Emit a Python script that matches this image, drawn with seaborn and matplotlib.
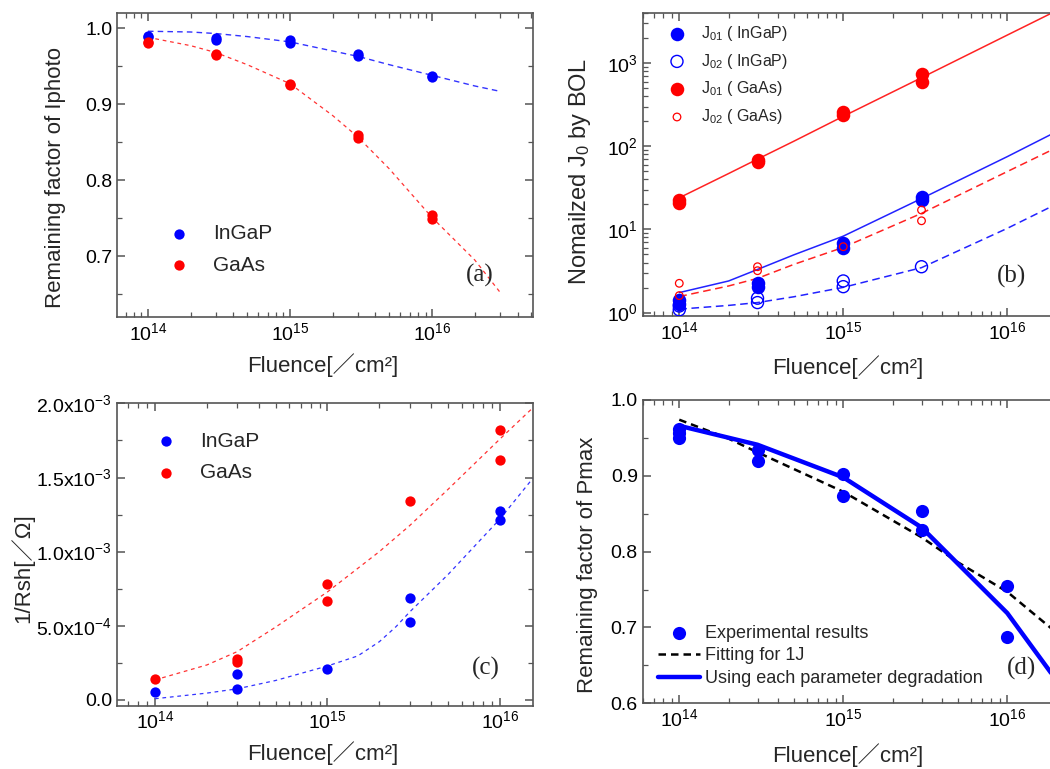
import matplotlib
matplotlib.use("Agg")
import matplotlib.pyplot as plt
import matplotlib.ticker as mticker
import seaborn as sns

# (a) remaining factor of Iphoto
fl_a = [1e14, 1e14, 3e14, 3e14, 1e15, 1e15, 3e15, 3e15, 1e16, 1e16]
iph_ingap = [0.990, 0.988, 0.987, 0.985, 0.984, 0.980, 0.966, 0.963, 0.937, 0.936]
iph_gaas = [0.982, 0.980, 0.966, 0.965, 0.927, 0.925, 0.860, 0.855, 0.754, 0.749]
fit_fl_a = [1e14, 2e14, 3e14, 5e14, 1e15, 2e15, 3e15, 5e15, 1e16, 2e16, 3e16]
fit_iph_ingap = [0.996, 0.995, 0.993, 0.989, 0.982, 0.970, 0.963, 0.952, 0.938, 0.924, 0.917]
fit_iph_gaas = [0.988, 0.977, 0.968, 0.952, 0.927, 0.885, 0.857, 0.815, 0.751, 0.695, 0.653]

# (b) normalized J0
fl_b1 = [1e14, 1e14, 3e14, 3e14, 1e15, 1e15, 3e15, 3e15]
j01_ingap = [1.42, 1.27, 2.25, 2.01, 6.8, 5.9, 24.2, 22.5]
j01_gaas = [22.5, 21.0, 69, 65, 258, 235, 731, 600]
fl_b2 = [1e14, 1e14, 3e14, 3e14, 1e15, 1e15, 3e15]
j02_ingap = [1.20, 1.08, 1.49, 1.32, 2.40, 2.05, 3.56]
fl_b3 = [1e14, 1e14, 3e14, 3e14, 1e15, 3e15, 3e15]
j02_gaas = [2.25, 1.60, 3.56, 3.19, 6.2, 17.1, 12.7]
fit_fl_b = [1e14, 2e14, 3e14, 5e14, 1e15, 3e15, 1e16, 3e16]
fit_j01_ingap = [1.74, 2.4, 3.3, 4.95, 8.3, 23.5, 75, 225]
fit_j01_gaas = [24, 47, 70, 115, 229, 667, 2170, 6350]
fit_j02_ingap = [1.10, 1.22, 1.32, 1.55, 2.01, 3.47, 10.3, 30]
fit_j02_gaas = [1.56, 2.09, 2.58, 3.8, 6.08, 15.6, 49.6, 142]

# (c) 1/Rsh
fl_c_ingap = [1e14, 3e14, 3e14, 1e15, 3e15, 3e15, 1e16, 1e16]
rsh_ingap = [5.5e-5, 1.72e-4, 7.2e-5, 2.08e-4, 6.88e-4, 5.22e-4, 1.272e-3, 1.216e-3]
fl_c_gaas = [1e14, 3e14, 3e14, 1e15, 1e15, 3e15, 1e16, 1e16]
rsh_gaas = [1.39e-4, 2.75e-4, 2.58e-4, 7.79e-4, 6.67e-4, 1.341e-3, 1.818e-3, 1.615e-3]
fit_fl_c_ingap = [1e14, 2e14, 3e14, 5e14, 1e15, 1.5e15, 2e15, 2.5e15, 3e15, 5e15, 1e16, 1.55e16]
fit_rsh_ingap = [7e-6, 4.5e-5, 7.4e-5, 1.3e-4, 2.28e-4, 2.96e-4, 3.92e-4, 4.94e-4, 5.93e-4,
                 8.45e-4, 1.22e-3, 1.494e-3]
fit_fl_c_gaas = [1e14, 2e14, 3e14, 5e14, 1e15, 2e15, 3e15, 5e15, 1e16, 1.55e16]
fit_rsh_gaas = [1.34e-4, 2.35e-4, 3.25e-4, 4.9e-4, 7.28e-4, 1.0e-3, 1.176e-3, 1.42e-3, 1.76e-3, 1.97e-3]

# (d) remaining factor of Pmax
fl_d = [1e14, 1e14, 1e14, 3e14, 3e14, 1e15, 1e15, 3e15, 3e15, 1e16, 1e16]
pmax = [0.962, 0.957, 0.950, 0.934, 0.919, 0.903, 0.873, 0.853, 0.828, 0.755, 0.688]
fit1j_fl = [1e14, 2e14, 3e14, 1e15, 3e15, 5e15, 1e16, 2e16]
fit1j = [0.974, 0.949, 0.931, 0.879, 0.819, 0.786, 0.747, 0.693]
param_fl = [1e14, 3e14, 1e15, 3e15, 1e16, 2e16]
param = [0.966, 0.941, 0.898, 0.832, 0.719, 0.630]

sns.set_style("ticks")
plt.rcParams['font.family'] = ['Liberation Sans', 'Noto Sans CJK JP', 'DejaVu Sans']
plt.rcParams['mathtext.fontset'] = 'custom'
plt.rcParams['mathtext.rm'] = 'Liberation Sans'
plt.rcParams['mathtext.it'] = 'Liberation Sans:italic'
plt.rcParams['mathtext.default'] = 'regular'

W, H = 1050, 769


def box(l, t, r, b):
    return [l / W, 1 - b / H, (r - l) / W, (b - t) / H]


def style(ax, xlog_lim):
    ax.set_xscale('log')
    ax.set_xlim(10 ** xlog_lim[0], 10 ** xlog_lim[1])
    for s in ax.spines.values():
        s.set_color('#555555')
        s.set_linewidth(1.2)
    ax.tick_params(which='both', direction='in', top=True, right=True,
                   colors='#555555', labelcolor='black', labelsize=14)
    ax.tick_params(which='major', length=6, width=1.1)
    ax.tick_params(which='minor', length=3.5, width=0.9)
    ax.xaxis.set_minor_formatter(mticker.NullFormatter())


def labels(ax, xl, ylab, yl, ysize=16):
    ax.set_xlabel('Fluence[／cm²]', fontsize=16, va='center')
    ax.xaxis.set_label_coords(xl[0] / W, 1 - xl[1] / H, transform=fig.transFigure)
    ax.set_ylabel(ylab, fontsize=ysize, va='center')
    ax.yaxis.set_label_coords(yl[0] / W, 1 - yl[1] / H, transform=fig.transFigure)


fig = plt.figure(figsize=(10.5, 7.69), dpi=100)
ax_a = fig.add_axes(box(117, 13, 532.7, 317))
ax_b = fig.add_axes(box(642.7, 13, 1115, 316))
ax_c = fig.add_axes(box(117, 403.3, 532.7, 705.7))
ax_d = fig.add_axes(box(642.7, 400, 1115, 703.3))

# ---- (a)
style(ax_a, (13.782, 16.709))
sns.lineplot(x=fit_fl_a, y=fit_iph_ingap, ax=ax_a, color='#3333ff', lw=1.0,
             linestyle=(0, (4, 3)), estimator=None, legend=False)
sns.lineplot(x=fit_fl_a, y=fit_iph_gaas, ax=ax_a, color='#ff3333', lw=0.9,
             linestyle=(0, (3, 3)), estimator=None, legend=False)
sns.scatterplot(x=fl_a, y=iph_ingap, ax=ax_a, color='blue', s=55, linewidth=0, label='InGaP', zorder=3)
sns.scatterplot(x=fl_a, y=iph_gaas, ax=ax_a, color='red', s=55, linewidth=0, label='GaAs', zorder=3)
ax_a.set_ylim(0.62, 1.02)
ax_a.yaxis.set_major_locator(mticker.MultipleLocator(0.1))
ax_a.yaxis.set_minor_locator(mticker.MultipleLocator(0.05))
ax_a.yaxis.set_major_formatter(mticker.FormatStrFormatter('%.1f'))
labels(ax_a, (323, 365), 'Remaining factor of Iphoto', (55, 178))
ax_a.legend(loc='center left', bbox_to_anchor=(168.6 / W, 1 - 249.5 / H),
            bbox_transform=fig.transFigure, frameon=False, fontsize=15,
            handlelength=1.0, handletextpad=1.15, labelspacing=0.6,
            borderpad=0, borderaxespad=0)

# ---- (b)
style(ax_b, (13.777, 16.657))
ax_b.set_yscale('log')
sns.lineplot(x=fit_fl_b, y=fit_j01_gaas, ax=ax_b, color='#ff2222', lw=1.1, estimator=None, legend=False)
sns.lineplot(x=fit_fl_b, y=fit_j01_ingap, ax=ax_b, color='#2222ff', lw=1.1, estimator=None, legend=False)
sns.lineplot(x=fit_fl_b, y=fit_j02_gaas, ax=ax_b, color='#ff2222', lw=1.1,
             linestyle=(0, (5, 3)), estimator=None, legend=False)
sns.lineplot(x=fit_fl_b, y=fit_j02_ingap, ax=ax_b, color='#2222ff', lw=1.1,
             linestyle=(0, (5, 3)), estimator=None, legend=False)
sns.scatterplot(x=fl_b1, y=j01_ingap, ax=ax_b, color='blue', s=95, linewidth=0,
                label='J$_{01}$ ( InGaP)', zorder=3)
sns.scatterplot(x=fl_b2, y=j02_ingap, ax=ax_b, facecolors='none', edgecolor='blue', s=75,
                linewidth=1.0, label='J$_{02}$ ( InGaP)', zorder=3)
sns.scatterplot(x=fl_b1, y=j01_gaas, ax=ax_b, color='red', s=95, linewidth=0,
                label='J$_{01}$ ( GaAs)', zorder=3)
sns.scatterplot(x=fl_b3, y=j02_gaas, ax=ax_b, facecolors='none', edgecolor='red', s=30,
                linewidth=0.9, label='J$_{02}$ ( GaAs)', zorder=3)
ax_b.set_ylim(0.91, 4000)
labels(ax_b, (848, 367), 'Nomailzed J$_0$ by BOL', (580, 172), ysize=17)
ax_b.legend(loc='center left', bbox_to_anchor=(669 / W, 1 - 75 / H),
            bbox_transform=fig.transFigure, frameon=False, fontsize=11.5,
            handlelength=1.0, handletextpad=1.0, labelspacing=0.55,
            borderpad=0, borderaxespad=0)

# ---- (c)
style(ax_c, (13.780, 16.19))
sns.lineplot(x=fit_fl_c_gaas, y=fit_rsh_gaas, ax=ax_c, color='#ff3333', lw=0.9,
             linestyle=(0, (3, 3)), estimator=None, legend=False)
sns.lineplot(x=fit_fl_c_ingap, y=fit_rsh_ingap, ax=ax_c, color='#3333ff', lw=0.9,
             linestyle=(0, (3, 3)), estimator=None, legend=False)
sns.scatterplot(x=fl_c_ingap, y=rsh_ingap, ax=ax_c, color='blue', s=55, linewidth=0, label='InGaP', zorder=3)
sns.scatterplot(x=fl_c_gaas, y=rsh_gaas, ax=ax_c, color='red', s=55, linewidth=0, label='GaAs', zorder=3)
ax_c.set_ylim(-4e-5, 2.001e-3)
ax_c.yaxis.set_major_locator(mticker.MultipleLocator(5e-4))
ax_c.yaxis.set_minor_locator(mticker.MultipleLocator(2.5e-4))


def sci_fmt(v, pos):
    if abs(v) < 1e-12:
        return '0.0'
    e = int(f'{v:e}'.split('e')[1])
    return f'{v / 10 ** e:.1f}x10$^{{{e}}}$'


ax_c.yaxis.set_major_formatter(mticker.FuncFormatter(sci_fmt))
labels(ax_c, (323, 753), '1/Rsh[／Ω]', (22, 568))
ax_c.legend(loc='center left', bbox_to_anchor=(155.6 / W, 1 - 457 / H),
            bbox_transform=fig.transFigure, frameon=False, fontsize=15,
            handlelength=1.0, handletextpad=1.15, labelspacing=0.6,
            borderpad=0, borderaxespad=0)

# ---- (d)
style(ax_d, (13.777, 16.657))
sns.lineplot(x=fit1j_fl, y=fit1j, ax=ax_d, color='black', lw=1.8,
             linestyle=(0, (3, 2)), estimator=None, label='Fitting for 1J')
sns.lineplot(x=param_fl, y=param, ax=ax_d, color='blue', lw=3.2,
             estimator=None, label='Using each parameter degradation')
sns.scatterplot(x=fl_d, y=pmax, ax=ax_d, color='blue', s=90, linewidth=0,
                label='Experimental results', zorder=3)
ax_d.set_ylim(0.6, 1.0)
ax_d.yaxis.set_major_locator(mticker.MultipleLocator(0.1))
ax_d.yaxis.set_minor_locator(mticker.MultipleLocator(0.05))
ax_d.yaxis.set_major_formatter(mticker.FormatStrFormatter('%.1f'))
labels(ax_d, (848, 755), 'Remaining factor of Pmax', (588, 565))
h, l = ax_d.get_legend_handles_labels()
order = [l.index('Experimental results'), l.index('Fitting for 1J'),
         l.index('Using each parameter degradation')]
ax_d.legend([h[i] for i in order], [l[i] for i in order],
            loc='center left', bbox_to_anchor=(658 / W, 1 - 656 / H),
            bbox_transform=fig.transFigure, frameon=False, fontsize=13,
            handlelength=2.33, handletextpad=0.3, labelspacing=0.3,
            borderpad=0, borderaxespad=0)

for txt, x, y in [('(a)', 480, 275), ('(b)', 1011, 276), ('(c)', 486, 668), ('(d)', 1021, 668)]:
    fig.text(x / W, 1 - y / H, txt, family='Liberation Serif', fontsize=18, ha='center', va='center')

fig.savefig('out.png', dpi=100)
